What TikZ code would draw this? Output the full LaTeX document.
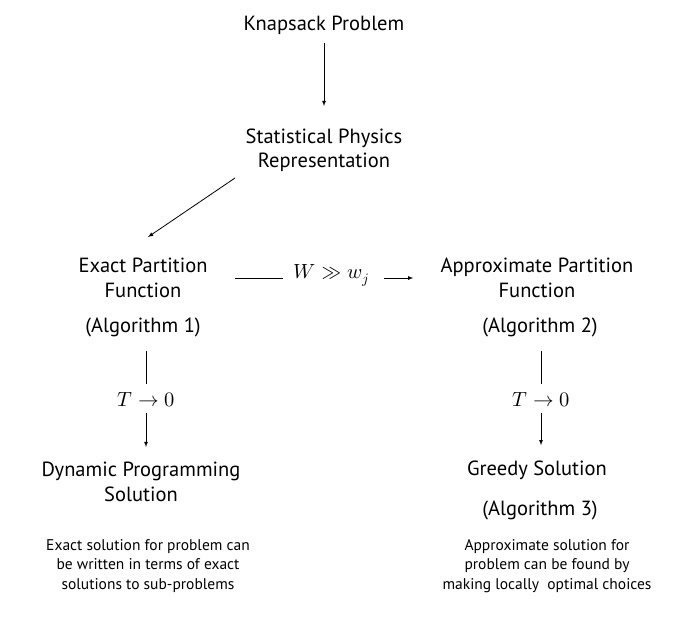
\documentclass[tikz,border=0pt]{standalone}
\usepackage{amsmath}
\usepackage{fontspec}
\usepackage{unicode-math}
\setmainfont{PT Sans}
\setmathfont{Latin Modern Math}
\usepackage{tikz}
\usetikzlibrary{calc}
\tikzset{>=latex}

\begin{document}
\begin{tikzpicture}[x=1pt, y=-1pt, line width=0.8pt,
    every node/.style={font=\fontsize{20.5}{24.5}\selectfont, align=center, inner sep=0pt},
    note/.style={font=\fontsize{15.5}{19.5}\selectfont, align=center, inner sep=0pt}]
      \useasboundingbox (0,0) rectangle (674,624);
      % top of the chain
      \node (knap) at (324,25) {Knapsack Problem};
      \node (stat) at (324,150) {Statistical Physics\\Representation};
      \draw[->, shorten <=8pt, shorten >=22pt] (knap) -- (stat);
      % exact branch
      \node (exact) at (143,278) {Exact Partition\\Function};
      \node (alg1) at (143,327) {(Algorithm 1)};
      \node (tl1) at (146,400) {$T \to 0$};
      \node (dyn) at (141,482) {Dynamic Programming\\Solution};
      \node[note] (note1) at (148,566) {Exact solution for problem can\\be written in terms of exact\\solutions to sub-problems};
      \draw[->] ($(stat)+(-89,28)$) -- ($(exact)+(5,-41)$);
      \draw[shorten <=14pt, shorten >=8pt] (alg1.south -| tl1) -- (tl1);
      \draw[->, shorten <=5pt, shorten >=15pt] (tl1) -- (tl1 |- dyn.north);
      % approximate branch
      \node (wcond) at (331,275) {$W \gg w_j$};
      \node (approx) at (537,278) {Approximate Partition\\Function};
      \node (alg2) at (540,327) {(Algorithm 2)};
      \node (tl2) at (541,400) {$T \to 0$};
      \node (greedy) at (537,470) {Greedy Solution};
      \node (alg3) at (540,510) {(Algorithm 3)};
      \node[note] (note2) at (547,566) {Approximate solution for\\problem can be found by\\making locally\ \ optimal choices};
      \draw[shorten <=27pt, shorten >=10pt] (exact.east) -- (wcond.west |- exact.east);
      \draw[->, shorten <=15pt, shorten >=27pt] (wcond.east |- approx.west) -- (approx.west);
      \draw[shorten <=14pt, shorten >=8pt] (alg2.south -| tl2) -- (tl2);
      \draw[->, shorten <=5pt, shorten >=15pt] (tl2) -- (tl2 |- greedy.north);
    \end{tikzpicture}
\end{document}
